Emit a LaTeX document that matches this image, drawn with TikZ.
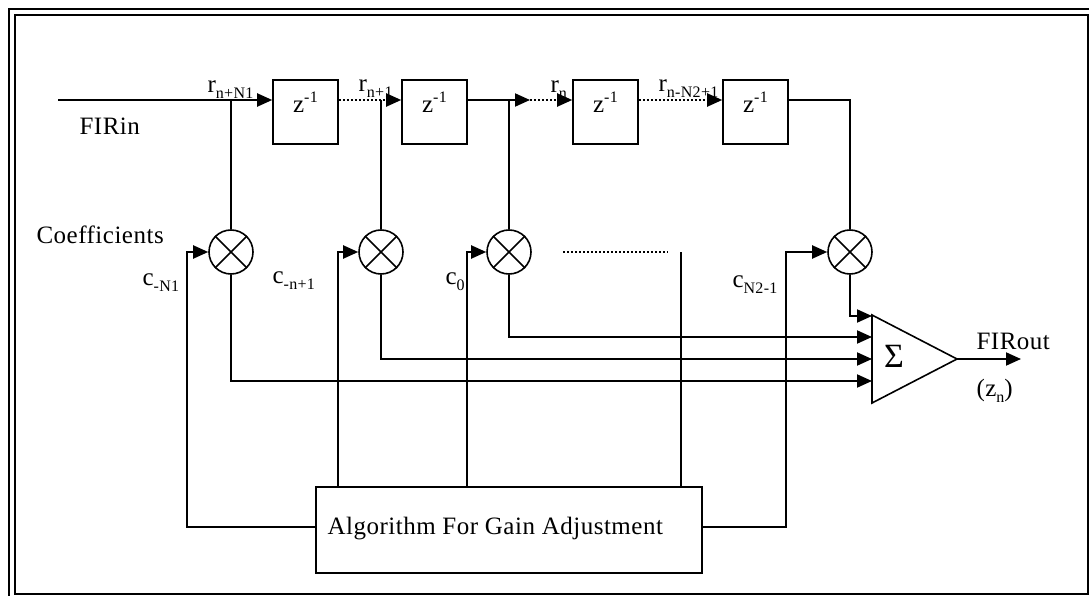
\documentclass[tikz,border=0pt]{standalone}
\usepackage{fontspec}
\setmainfont{Liberation Serif}[LetterSpace=2]
\usetikzlibrary{arrows.meta}
\newcommand{\subtxt}[1]{\raisebox{-6pt}{\fontsize{16}{18}\selectfont #1}}
\newcommand{\suptxt}[1]{\raisebox{10pt}{\fontsize{16}{18}\selectfont #1}}

\begin{document}
\begin{tikzpicture}[x=1pt, y=-1pt, >={Triangle[length=15pt,width=13pt]},
    every node/.style={font=\fontsize{25}{29}\selectfont},
    sig/.style={line width=2pt},
    dots/.style={line width=2pt, dash pattern=on 2pt off 2pt},
    delay/.style={draw, line width=1.6pt, minimum width=65pt, minimum height=64pt, inner sep=0pt, text height=2pt, text depth=0pt},
    mult/.style={draw, line width=1.6pt, circle, minimum size=44pt, inner sep=0pt},
    algo/.style={draw, line width=1.6pt, minimum width=386pt, minimum height=86pt}]
    \useasboundingbox (0,0) rectangle (1089,596);
    \clip (0,0) rectangle (1089,596);

    % Frame
    \draw[line width=2pt] (15,15) rectangle (1088,594);
    \draw[line width=2pt] (9,600) -- (9,9) -- (1095,9);

    % Delay line
    \node[delay] (d1) at (305.5,112) {z\suptxt{-1}};
    \node[delay] (d2) at (434.5,112) {z\suptxt{-1}};
    \node[delay] (d3) at (605.5,112) {z\suptxt{-1}};
    \node[delay] (d4) at (755.5,112) {z\suptxt{-1}};

    % Multipliers
    \node[mult] (m1) at (231,252) {};
    \node[mult] (m2) at (381,252) {};
    \node[mult] (m3) at (509,252) {};
    \node[mult] (m4) at (850,252) {};
    \foreach \m in {m1,m2,m3,m4}
        \draw[line width=1.6pt] (\m.north west) -- (\m.south east) (\m.north east) -- (\m.south west);

    % Adder
    \coordinate (sumtop) at (872,315);
    \coordinate (sumbot) at (872,403);
    \coordinate (sumtip) at (957,359);
    \draw[line width=1.6pt] (sumtop) -- (sumtip) -- (sumbot) -- cycle;
    \node (sigma) at (894,356) {\fontsize{34}{36}\selectfont Σ};
    \coordinate (s1) at (872,316);
    \coordinate (s2) at (872,337);
    \coordinate (s3) at (872,359);
    \coordinate (s4) at (872,381);
    \coordinate (out) at (1021,359);

    % Gain adjustment
    \node[algo] (algo) at (509,530) {};
    \node[anchor=base west] (algotxt) at (324,534) {Algorithm For Gain Adjustment};

    % Signal path
    \coordinate (in) at (58,100);
    \coordinate (mid) at (530,100);
    \coordinate (t1) at (m1 |- in);
    \coordinate (t2) at (m2 |- in);
    \coordinate (t3) at (m3 |- in);
    \draw[sig,->] (in) -- (in -| d1.west);
    \draw[dots,->] (in -| d1.east) -- (in -| d2.west);
    \draw[sig,->] (in -| d2.east) -- (mid);
    \draw[dots,->] (mid) -- (in -| d3.west);
    \draw[dots,->] (in -| d3.east) -- (in -| d4.west);
    \draw[sig] (in -| d4.east) -| (m4.north);
    \draw[sig] (t1) -- (m1.north);
    \draw[sig] (t2) -- (m2.north);
    \draw[sig] (t3) -- (m3.north);

    % Products into adder
    \draw[sig,->] (m1.south) |- (s4);
    \draw[sig,->] (m2.south) |- (s3);
    \draw[sig,->] (m3.south) |- (s2);
    \draw[sig,->] (m4.south) |- (s1);
    \draw[sig,->] (sumtip) -- (out);

    % Coefficients
    \coordinate (k1) at (187,252);
    \coordinate (k2) at (338,252);
    \coordinate (k3) at (467,252);
    \coordinate (k4) at (786,252);
    \coordinate (k5) at (681,252);
    \coordinate (e1) at (563,252);
    \coordinate (e2) at (668,252);
    \draw[sig,->] ([yshift=3pt]algo.west) -| (k1) -- (m1.west);
    \draw[sig,->] (k2 |- algo.north) -- (k2) -- (m2.west);
    \draw[sig,->] (k3 |- algo.north) -- (k3) -- (m3.west);
    \draw[sig] (k5 |- algo.north) -- (k5);
    \draw[dots] (e1) -- (e2);
    \draw[sig,->] ([yshift=3pt]algo.east) -| (k4) -- (m4.west);

    % Labels
    \node[anchor=base west] (lin) at (76,135) {FIRin};
    \node[anchor=base west] (lout) at (973,349) {FIRout};
    \node[anchor=base west] (lz) at (973,396) {(z\subtxt{n})};
    \node[anchor=base west] (lcoef) at (33,243) {Coefficients};
    \node[anchor=base west] (lc1) at (139,285) {c\subtxt{-N1}};
    \node[anchor=base west] (lc2) at (269,283) {c\subtxt{-n+1}};
    \node[anchor=base west] (lc3) at (442,284) {c\subtxt{0}};
    \node[anchor=base west] (lc4) at (729,287) {c\subtxt{N2-1}};
    \node[anchor=base west] (lr1) at (204,93) {r\subtxt{n+N1}};
    \node[anchor=base west] (lr2) at (355,92) {r\subtxt{n+1}};
    \node[anchor=base west] (lr3) at (547,93) {r\subtxt{n}};
    \node[anchor=base west] (lr4) at (655,92) {r\subtxt{n-N2+1}};
\end{tikzpicture}
\end{document}
